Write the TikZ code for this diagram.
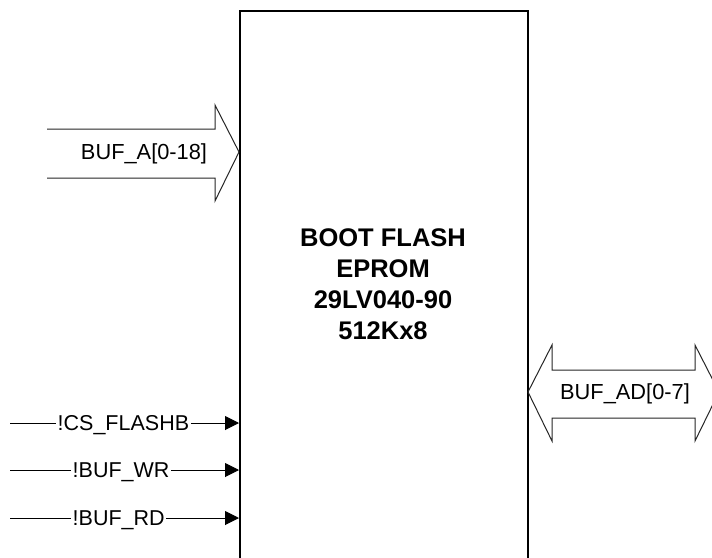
\documentclass[tikz,border=0pt]{standalone}
\usepackage{fontspec}
\setmainfont{Liberation Sans}
\usetikzlibrary{arrows.meta}
\tikzset{
  px/.style={x=1pt,y=-1pt},
  chipbox/.style={draw=black,line width=2pt},
  busarrow/.style={draw=black!85,line width=1pt,line join=miter},
  siglbl/.style={font=\fontsize{21.5}{24}\selectfont,text height=15.4pt,text depth=0pt,inner sep=1.5pt},
  buslbl/.style={font=\fontsize{21.8}{24}\selectfont,text height=15.4pt,text depth=0pt,inner sep=0pt},
  sigline/.style={draw=black,line width=1pt},
  sigarrow/.style={sigline,-{Triangle[length=14pt,width=14pt]}},
  titlelbl/.style={font=\fontsize{25.5}{31}\selectfont\bfseries,align=center,inner sep=0pt}
}
\begin{document}
\begin{tikzpicture}[px]
\useasboundingbox (0,0) rectangle (712,557);
\clip (0,0) rectangle (712,557);
\fill[white] (0,0) rectangle (712,557);
% chip body
\node[chipbox,minimum width=288pt,minimum height=570pt,anchor=north west] (chip) at (239,10) {};
\node[titlelbl] (title) at (383,284) {BOOT FLASH\\EPROM\\29LV040-90\\512Kx8};
% BUF_A bus arrow
\draw[busarrow] (47,129) -- (215,129) -- (215,105) -- (239,152) -- (215,201) -- (215,178) -- (47,178);
\node[buslbl] (bufa) at (144,152) {BUF\_A[0-18]};
% BUF_AD bidirectional bus arrow
\draw[busarrow] (552,370) -- (552,345) -- (528,392) -- (552,441) -- (552,418) -- (695,418) -- (695,441) -- (719,392) -- (695,345) -- (695,370) -- cycle;
\node[buslbl] (bufad) at (625,392) {BUF\_AD[0-7]};
% control signals
\coordinate (csL) at (10,423);
\coordinate (csR) at (239,423);
\node[siglbl,anchor=west] (cs) at (56,423) {!CS\_FLASHB};
\draw[sigline] (csL) -- (cs.west);
\draw[sigarrow] (cs.east) -- (csR);
\coordinate (wrL) at (10,470);
\coordinate (wrR) at (239,470);
\node[siglbl,anchor=west] (wr) at (71,470) {!BUF\_WR\hspace{5pt}};
\draw[sigline] (wrL) -- (wr.west);
\draw[sigarrow] (wr.east) -- (wrR);
\coordinate (rdL) at (10,518);
\coordinate (rdR) at (239,518);
\node[siglbl,anchor=west] (rd) at (71,518) {!BUF\_RD};
\draw[sigline] (rdL) -- (rd.west);
\draw[sigarrow] (rd.east) -- (rdR);
\end{tikzpicture}
\end{document}
